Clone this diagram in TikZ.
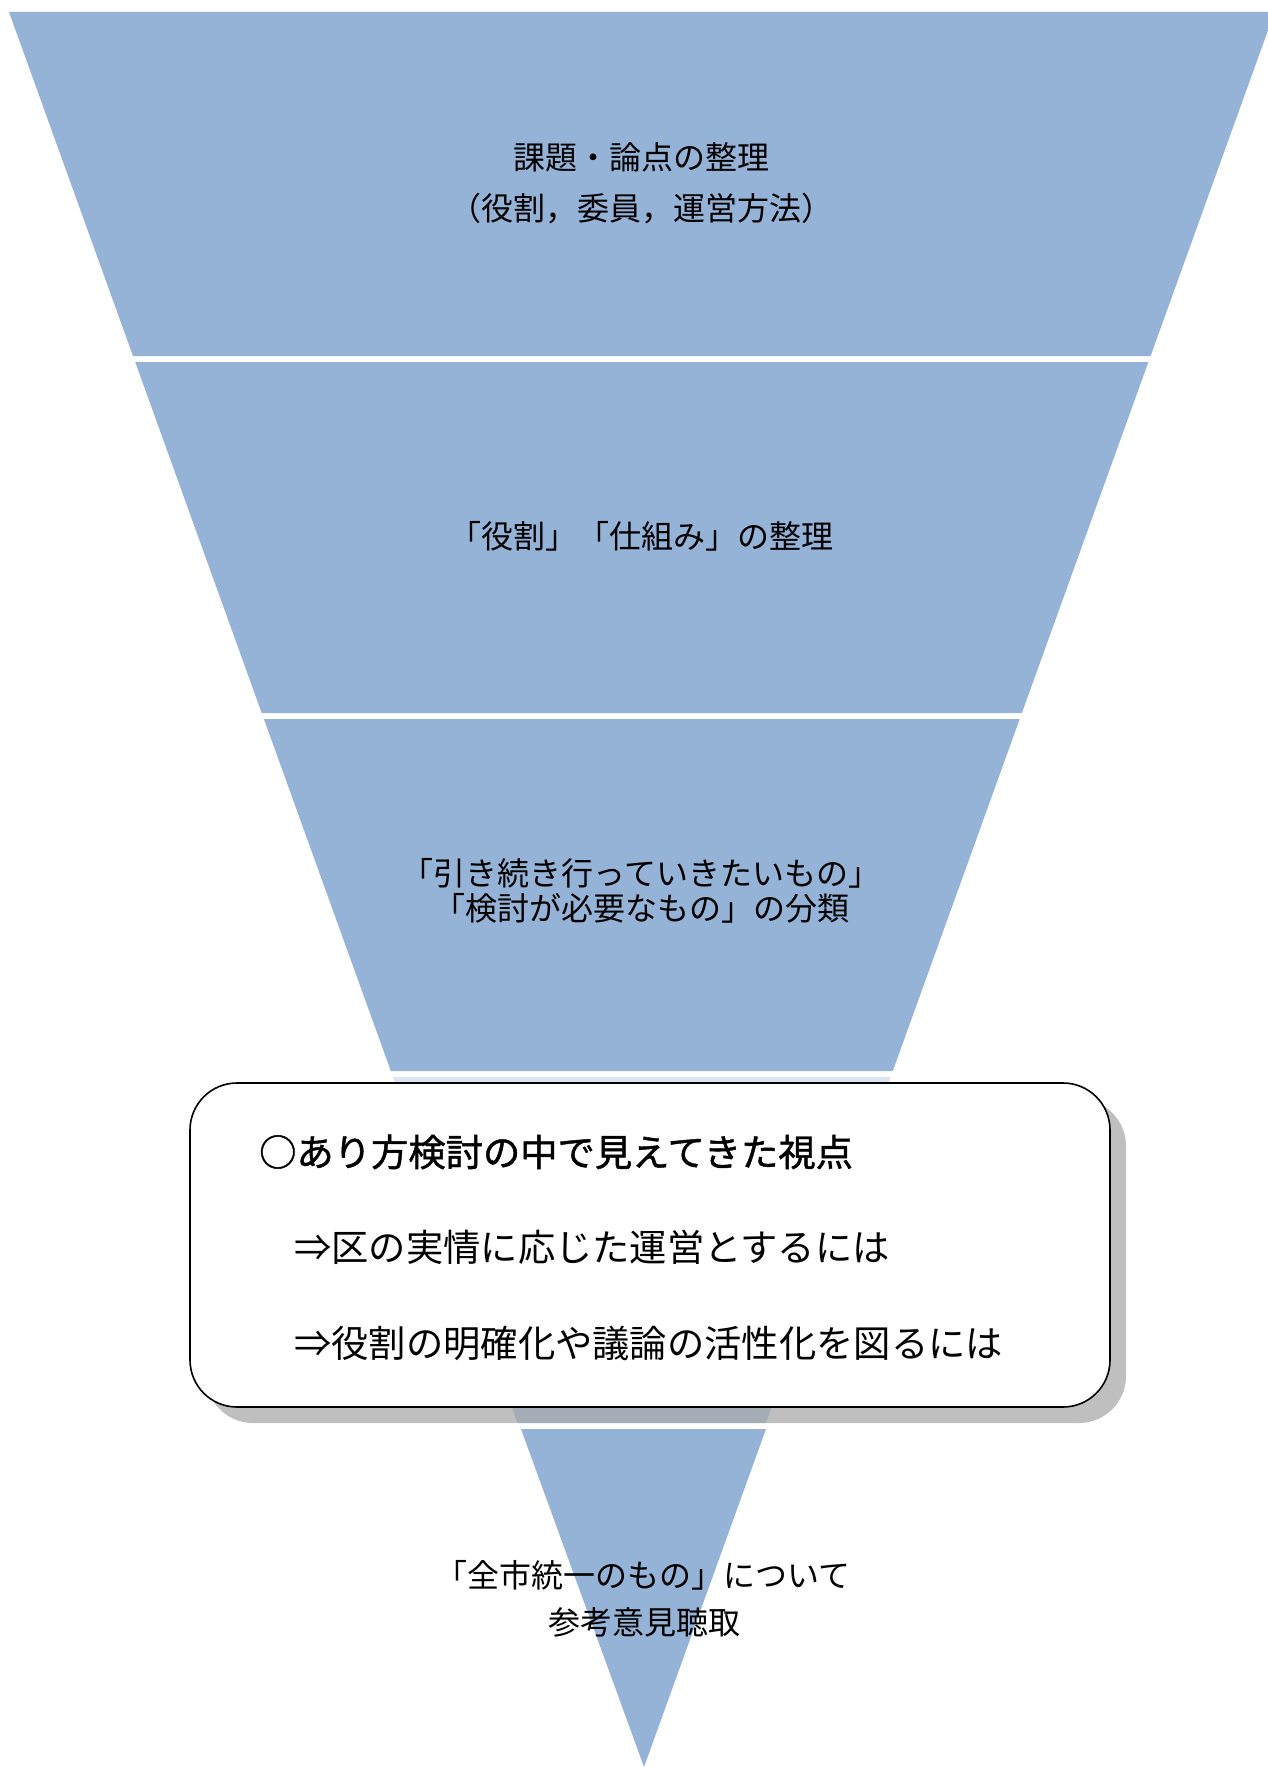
\documentclass[tikz,border=0pt]{standalone}
\usepackage{fontspec}
\setmainfont{Noto Sans CJK JP}
\newfontfamily\medfont[FakeBold=1.2]{Noto Sans CJK JP}
\definecolor{band}{HTML}{95B3D7}
\definecolor{bandlight}{HTML}{DCE6F2}
\begin{document}
\begin{tikzpicture}[x=1pt,y=-1pt,
  lbl/.style={font=\fontsize{32}{38}\selectfont,inner sep=0pt,anchor=center,text=black},
  boxtxt/.style={font=\fontsize{37.3}{44}\selectfont,inner sep=0pt,anchor=west,text=black},
  boxshape/.style={rounded corners=47pt,line width=1.6pt}]
\useasboundingbox (0,0) rectangle (1267,1768);
% funnel bands
\fill[band] (9,12) -- (1274.6,12) -- (1150.6,356) -- (133,356) -- cycle;
\fill[band] (135.2,362) -- (1148.4,362) -- (1021.9,713) -- (261.7,713) -- cycle;
\fill[band] (263.9,719) -- (1019.7,719) -- (892.8,1071) -- (390.8,1071) -- cycle;
\fill[bandlight] (392.9,1077) -- (890.7,1077) -- (765.9,1423) -- (517.7,1423) -- cycle;
\fill[band] (521,1429) -- (766,1429) -- (644,1767) -- cycle;
% labels
\node[lbl] (t1a) at (641,157) {課題・論点の整理};
\node[lbl] (t1b) at (641,209) {（役割，委員，運営方法）};
\node[lbl] (t2) at (641,536) {「役割」「仕組み」の整理};
\node[lbl] (t3a) at (641,873) {「引き続き行っていきたいもの」};
\node[lbl] (t3b) at (641,908) {「検討が必要なもの」の分類};
\node[lbl] (t5a) at (643,1575) {「全市統一のもの」について};
\node[lbl] (t5b) at (644,1622) {参考意見聴取};
% box with shadow
\fill[black,opacity=0.25,boxshape] (206,1099) rectangle (1126,1423);
\draw[boxshape,fill=white,draw=black] (190,1083) rectangle (1110,1407);
\node[boxtxt,font=\fontsize{37.3}{44}\selectfont\medfont] (b1) at (259,1152) {○あり方検討の中で見えてきた視点};
\node[boxtxt] (b2) at (294,1247) {⇒区の実情に応じた運営とするには};
\node[boxtxt] (b3) at (294,1343) {⇒役割の明確化や議論の活性化を図るには};
\end{tikzpicture}
\end{document}
